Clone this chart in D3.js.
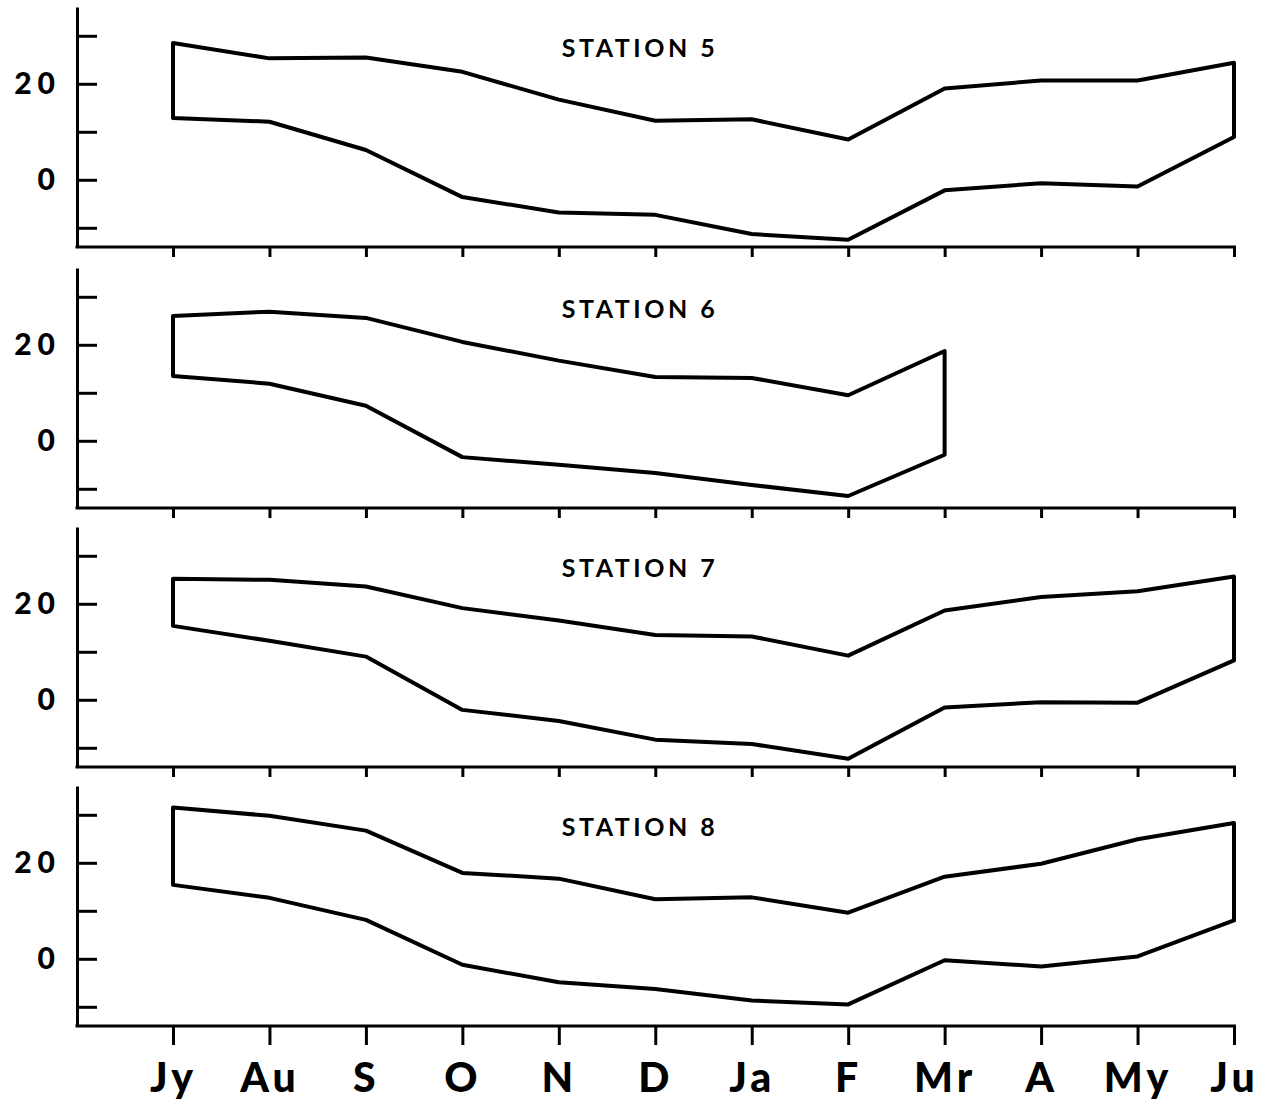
<!DOCTYPE html>
<html lang="en">
<head>
  <meta charset="UTF-8">
  <title>Stations 5-8 temperature range</title>
  <style>
    body { margin: 0; background: #fff; }
    .axis path, .axis line { stroke: #000; stroke-width: 3px; }
    .axis text { font-family: Lato, "DejaVu Sans", sans-serif; font-weight: 900; fill: #000; }
    .band { fill: none; stroke: #000; stroke-width: 4px; stroke-linejoin: round; }
    .title { font-family: Lato, sans-serif; font-weight: 700; font-size: 25px; letter-spacing: 3.5px; }
  </style>
  <script src="https://d3js.org/d3.v7.min.js"></script>
</head>
<body>
<svg id="chart"></svg>
<script>
  // months along the bottom
  var months = ['Jy', 'Au', 'S', 'O', 'N', 'D', 'Ja', 'F', 'Mr', 'A', 'My', 'Ju'];
  var stations = ['STATION 5', 'STATION 6', 'STATION 7', 'STATION 8'];

  // upper (max) and lower (min) curves, one array per station
  var max5 = [28.5, 25.3, 25.5, 22.5, 16.7, 12.3, 12.6, 8.4, 19.0, 20.7, 20.7, 24.4];
  var min5 = [12.9, 12.1, 6.2, -3.6, -6.8, -7.3, -11.3, -12.5, -2.2, -0.7, -1.4, 8.9];
  var max6 = [26.0, 26.9, 25.6, 20.6, 16.7, 13.3, 13.1, 9.5, 18.7];
  var min6 = [13.5, 11.9, 7.3, -3.4, -5.0, -6.7, -9.2, -11.5, -2.9];
  var max7 = [25.2, 25.0, 23.6, 19.1, 16.5, 13.5, 13.2, 9.2, 18.6, 21.4, 22.6, 25.7];
  var min7 = [15.4, 12.3, 9.0, -2.1, -4.4, -8.3, -9.2, -12.3, -1.6, -0.5, -0.6, 8.2];
  var max8 = [31.5, 29.8, 26.7, 17.9, 16.7, 12.4, 12.8, 9.6, 17.1, 19.8, 24.9, 28.3];
  var min8 = [15.4, 12.7, 8.1, -1.25, -4.9, -6.3, -8.7, -9.5, -0.3, -1.6, 0.5, 8.0];

  var maxes = [max5, max6, max7, max8];
  var mins = [min5, min6, min7, min8];
  var yTicks = [-10, 0, 10, 20, 30];
  var yLabels = [0, 20];

  var width = 1261, height = 1110;
  var left = 77, right = 1236;
  var panelTops = [7, 268, 527, 786];
  var panelH = 240;

  var svg = d3.select('#chart').attr('width', width).attr('height', height);

  var x = d3.scalePoint().domain(months).range([173, 1234]);
  var y = d3.scaleLinear().domain([-14, 36]).range([panelH, 0]);

  var line = d3.line()
    .x(function(d) { return x(d.m); })
    .y(function(d) { return y(d.v); });

  stations.forEach(function(name, i) {
    var g = svg.append('g').attr('transform', 'translate(0,' + panelTops[i] + ')');
    var last = i === stations.length - 1;

    // y axis, ticks pointing inward
    var yAxis = d3.axisLeft(y).tickValues(yTicks).tickSize(-20).tickSizeOuter(0).tickPadding(16)
      .tickFormat(function(d) { return yLabels.indexOf(d) >= 0 ? d : ''; });
    var ya = g.append('g').attr('class', 'axis').attr('transform', 'translate(' + left + ',0)').call(yAxis);
    ya.selectAll('text').style('font-size', '30px').style('letter-spacing', '6px');

    // x axis
    var xAxis = d3.axisBottom(x).tickSize(last ? 19 : 10).tickSizeOuter(0).tickPadding(18)
      .tickFormat(last ? null : function() { return ''; });
    var xa = g.append('g').attr('class', 'axis').attr('transform', 'translate(0,' + panelH + ')').call(xAxis);
    xa.select('.domain').remove();
    xa.append('line').attr('x1', left - 1.5).attr('x2', right).attr('y1', 0).attr('y2', 0);
    xa.selectAll('text').style('font-size', '41px').style('letter-spacing', '4px');

    // closed band: max forward, min backward
    var hi = maxes[i].map(function(v, k) { return {m: months[k], v: v}; });
    var lo = mins[i].map(function(v, k) { return {m: months[k], v: v}; }).reverse();
    g.append('path').attr('class', 'band').attr('d', line(hi.concat(lo)) + 'Z');

    g.append('text').attr('class', 'title')
      .attr('x', 640).attr('y', 50)
      .attr('text-anchor', 'middle')
      .text(name);
  });
</script>
</body>
</html>
